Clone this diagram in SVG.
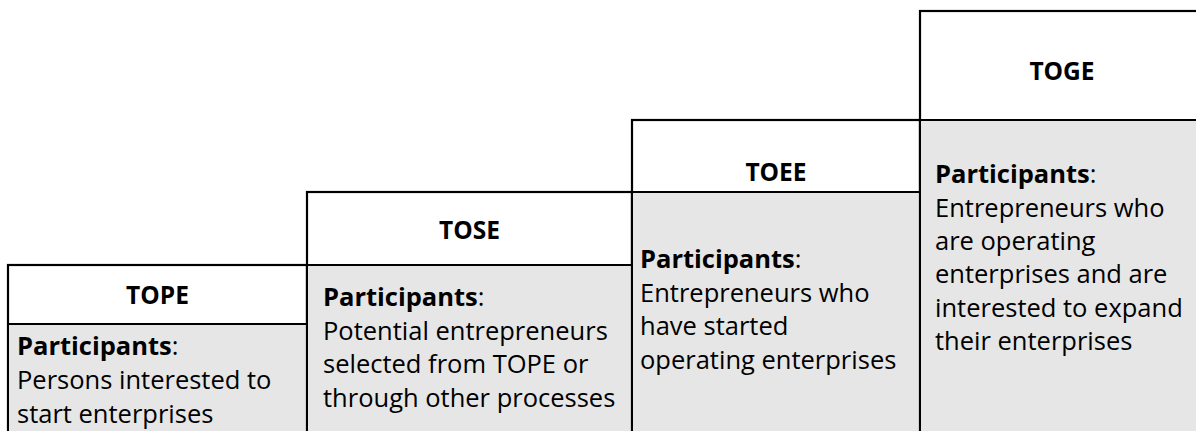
<svg xmlns="http://www.w3.org/2000/svg" width="1196" height="431" viewBox="0 0 1196 431">
  <style>
    .frame { fill: #ffffff; stroke: #000000; stroke-width: 2.2; }
    .body { fill: #e6e6e6; stroke: none; }
    .rule { stroke: #000000; stroke-width: 2.2; }
    .head { font-family: "Open Sans", "Liberation Sans", sans-serif; font-size: 24.5px; font-weight: bold; fill: #000000; text-anchor: middle; }
    .txt { font-family: "Open Sans", "Liberation Sans", sans-serif; font-size: 25.5px; fill: #000000; }
    .b { font-weight: bold; }
  </style>
  <rect x="0" y="0" width="1196" height="431" fill="#ffffff"/>

  <!-- Step 1: TOPE -->
  <g id="tope">
    <rect class="frame" x="8" y="265" width="299" height="200"/>
    <rect class="body" x="9" y="324" width="297" height="110"/>
    <line class="rule" x1="8" y1="324" x2="307" y2="324"/>
    <text class="head" x="157.5" y="304">TOPE</text>
    <text class="txt" x="17" y="355"><tspan class="b">Participants</tspan>:</text>
    <text class="txt" x="17" y="389">Persons interested to</text>
    <text class="txt" x="17" y="422.5">start enterprises</text>
  </g>

  <!-- Step 2: TOSE -->
  <g id="tose">
    <rect class="frame" x="307" y="192" width="325" height="280"/>
    <rect class="body" x="308" y="265" width="323" height="170"/>
    <line class="rule" x1="307" y1="265" x2="632" y2="265"/>
    <text class="head" x="469.5" y="238.5">TOSE</text>
    <text class="txt" x="323" y="306"><tspan class="b">Participants</tspan>:</text>
    <text class="txt" x="323" y="339.5">Potential entrepreneurs</text>
    <text class="txt" x="323" y="373">selected from TOPE or</text>
    <text class="txt" x="323" y="406.5">through other processes</text>
  </g>

  <!-- Step 3: TOEE -->
  <g id="toee">
    <rect class="frame" x="632" y="120" width="288" height="350"/>
    <rect class="body" x="633" y="192" width="286" height="245"/>
    <line class="rule" x1="632" y1="192" x2="920" y2="192"/>
    <text class="head" x="776" y="181">TOEE</text>
    <text class="txt" x="640" y="268"><tspan class="b">Participants</tspan>:</text>
    <text class="txt" x="640" y="301.5">Entrepreneurs who</text>
    <text class="txt" x="640" y="335">have started</text>
    <text class="txt" x="640" y="368.5">operating enterprises</text>
  </g>

  <!-- Step 4: TOGE -->
  <g id="toge">
    <rect class="frame" x="920" y="11" width="300" height="450"/>
    <rect class="body" x="921" y="120" width="290" height="320"/>
    <line class="rule" x1="920" y1="120" x2="1210" y2="120"/>
    <text class="head" x="1062" y="80">TOGE</text>
    <text class="txt" x="935" y="183"><tspan class="b">Participants</tspan>:</text>
    <text class="txt" x="935" y="216.5">Entrepreneurs who</text>
    <text class="txt" x="935" y="250">are operating</text>
    <text class="txt" x="935" y="283">enterprises and are</text>
    <text class="txt" x="935" y="316.5">interested to expand</text>
    <text class="txt" x="935" y="350">their enterprises</text>
  </g>

  <!-- no connectors between the steps -->
  <g id="connectors"/>
</svg>
